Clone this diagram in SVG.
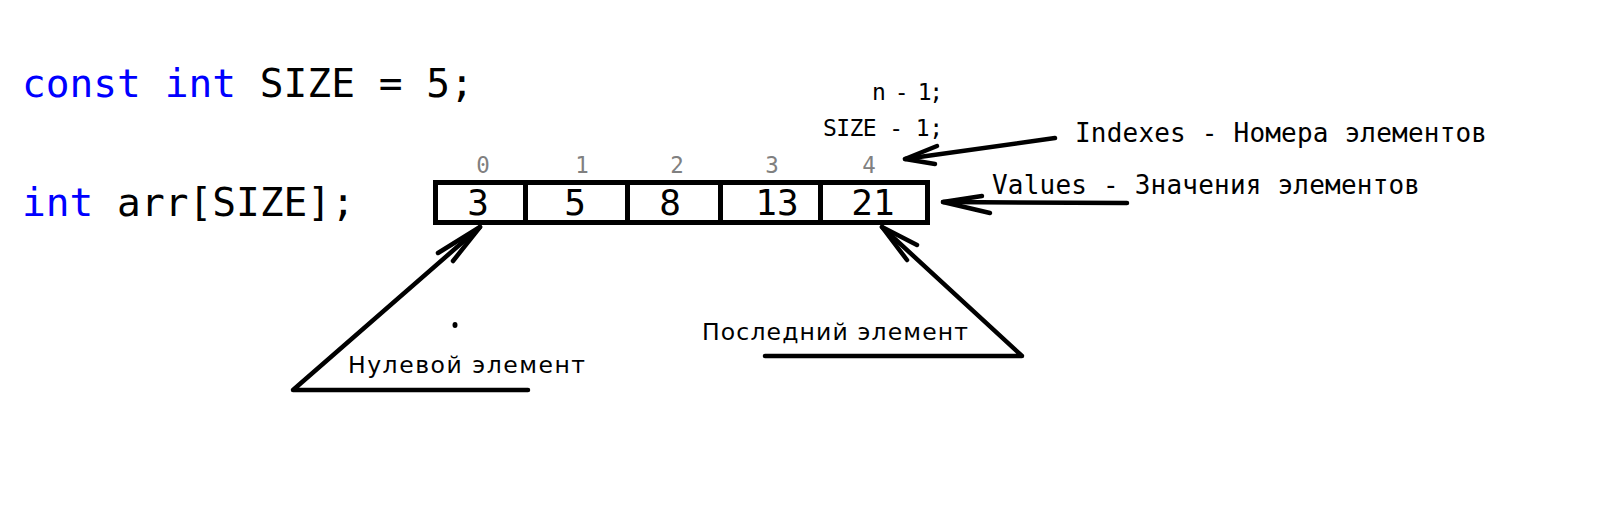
<svg xmlns="http://www.w3.org/2000/svg" width="1604" height="520" viewBox="0 0 1604 520">
<style>
.code{font-family:"DejaVu Sans Mono","Liberation Mono",monospace;font-size:39.5px;fill:#000}
.kw{fill:#0000ff}
.val{font-family:"DejaVu Sans Mono","Liberation Mono",monospace;font-size:36px;fill:#000;text-anchor:middle}
.idx{font-family:"DejaVu Sans Mono","Liberation Mono",monospace;font-size:22.5px;fill:#808080;text-anchor:middle}
.note{font-family:"DejaVu Sans Mono","Liberation Mono",monospace;font-size:23px;fill:#000}
.lbl{font-family:"DejaVu Sans Mono","Liberation Mono",monospace;font-size:26px;fill:#000}
.cap{font-family:"DejaVu Sans","Liberation Sans",sans-serif;font-size:23.5px;fill:#000}
.ln{fill:none;stroke:#000;stroke-width:4.5;stroke-linecap:round;stroke-linejoin:round}
.box{fill:#fff;stroke:#000;stroke-width:5}
</style>
<rect width="1604" height="520" fill="#fff"/>
<g id="code">
<text class="code" x="22" y="97"><tspan class="kw">const</tspan> <tspan class="kw">int</tspan> SIZE = 5;</text>
<text class="code" x="22" y="216"><tspan class="kw">int</tspan> arr[SIZE];</text>
</g>
<g id="array">
<rect class="box" x="435.5" y="182.5" width="492" height="40"/>
<line x1="525.5" y1="182.5" x2="525.5" y2="222.5" stroke="#000" stroke-width="5"/>
<line x1="627.5" y1="182.5" x2="627.5" y2="222.5" stroke="#000" stroke-width="5"/>
<line x1="720.5" y1="182.5" x2="720.5" y2="222.5" stroke="#000" stroke-width="5"/>
<line x1="820.5" y1="182.5" x2="820.5" y2="222.5" stroke="#000" stroke-width="5"/>
<text class="val" x="478" y="215">3</text>
<text class="val" x="575" y="215">5</text>
<text class="val" x="670" y="215">8</text>
<text class="val" x="777" y="215">13</text>
<text class="val" x="873" y="215">21</text>
</g>
<g id="indexes">
<text class="idx" x="483" y="173">0</text>
<text class="idx" x="582" y="173">1</text>
<text class="idx" x="677" y="173">2</text>
<text class="idx" x="772" y="173">3</text>
<text class="idx" x="869" y="173">4</text>
</g>
<g id="notes">
<text class="note" x="872" y="100" textLength="71">n - 1;</text>
<text class="note" x="823" y="136" textLength="120">SIZE - 1;</text>
</g>
<g id="label-indexes">
<text class="lbl" x="1075" y="142" textLength="412">Indexes - Номера элементов</text>
</g>
<g id="label-values">
<text class="lbl" x="992" y="194" textLength="428">Values - Значения элементов</text>
</g>
<g id="label-zero">
<text class="cap" x="348" y="373" textLength="237">Нулевой элемент</text>
</g>
<g id="label-last">
<text class="cap" x="702" y="340" textLength="266">Последний элемент</text>
</g>
<g id="connectors">
<polyline class="ln" points="528,390 293,390 480,227"/>
<polyline class="ln" points="438,253 480,227 453,261"/>
<polyline class="ln" points="765,356 1022,356 882,227"/>
<polyline class="ln" points="917,245 882,227 907,260"/>
<line class="ln" x1="1055" y1="138" x2="905" y2="159"/>
<polyline class="ln" points="937,146 905,159 935,164"/>
<line class="ln" x1="1127" y1="203" x2="943" y2="202"/>
<polyline class="ln" points="982,196 943,202 990,213"/>
<ellipse cx="455" cy="325" rx="2.5" ry="3" fill="#000"/>
</g>
</svg>
